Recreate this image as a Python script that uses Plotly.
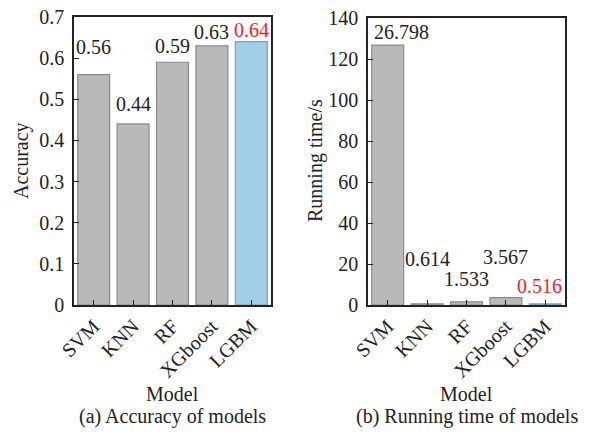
import plotly.graph_objects as go

models = ["SVM", "KNN", "RF", "XGboost", "LGBM"]
accuracy = [0.56, 0.44, 0.59, 0.63, 0.64]
accuracy_labels = ["0.56", "0.44", "0.59", "0.63", "0.64"]
runtime = [126.798, 0.614, 1.533, 3.567, 0.516]
runtime_labels = ["26.798", "0.614", "1.533", "3.567", "0.516"]
acc_ticks = [0, 0.1, 0.2, 0.3, 0.4, 0.5, 0.6, 0.7]
time_ticks = [0, 20, 40, 60, 80, 100, 120, 140]

FONT = "Liberation Serif"
GRAY = "#b9b9b9"
GRAY_LINE = "#8a8a8a"
BLUE = "#a0cfe6"
BLUE_LINE = "#7f9fb0"

fill = [GRAY, GRAY, GRAY, GRAY, BLUE]
outline = [GRAY_LINE, GRAY_LINE, GRAY_LINE, GRAY_LINE, BLUE_LINE]
label_colors = ["#222222", "#222222", "#222222", "#222222", "#ff1a1a"]

# label offsets in pixels (style)
acc_yshift = [28, 20, 16, 14, 12]
acc_xshift = [0, 0, 0, 0, 0]
time_yshift = [13, 45, 23, 41, 18]
time_xshift = [14, 0, 0, 0, -6]

W, H = 594, 432
OFF = 8  # page body margin compensation

fig = go.Figure()
fig.add_trace(go.Bar(x=models, y=accuracy, xaxis="x", yaxis="y",
                     marker=dict(color=fill, line=dict(color=outline, width=1.2)),
                     showlegend=False, hoverinfo="x+y"))
fig.add_trace(go.Bar(x=models, y=runtime, xaxis="x2", yaxis="y2",
                     marker=dict(color=fill, line=dict(color=outline, width=1.2)),
                     showlegend=False, hoverinfo="x+y"))

annotations = []
for i, m in enumerate(models):
    annotations.append(dict(x=m, y=accuracy[i], xref="x", yref="y", text=accuracy_labels[i],
                            showarrow=False, yanchor="middle", xanchor="center",
                            yshift=acc_yshift[i], xshift=acc_xshift[i],
                            font=dict(family=FONT, size=20, color=label_colors[i])))
    annotations.append(dict(x=m, y=runtime[i], xref="x2", yref="y2", text=runtime_labels[i],
                            showarrow=False, yanchor="middle", xanchor="center",
                            yshift=time_yshift[i], xshift=time_xshift[i],
                            font=dict(family=FONT, size=20, color=label_colors[i])))

def px(x):
    return (x - OFF) / W

def py(y):
    return 1 - (y - OFF) / H

text_items = [
    ("Model", 172.5, 394, 0),
    ("(a) Accuracy of models", 172.5, 416, 0),
    ("Model", 466.5, 394, 0),
    ("(b) Running time of models", 466.5, 416, 0),
    ("Accuracy", 21, 161, -90),
    ("Running time/s", 315, 161, -90),
]
for t, x, y, ang in text_items:
    annotations.append(dict(x=px(x), y=py(y), xref="paper", yref="paper", text=t,
                            showarrow=False, xanchor="center", yanchor="middle",
                            textangle=ang, font=dict(family=FONT, size=20, color="#222222")))

axis_common = dict(showline=True, linecolor="#222222", linewidth=1.5, mirror=True,
                   ticks="inside", ticklen=5, tickwidth=1.2, tickcolor="#222222",
                   showgrid=False, zeroline=False, automargin=False,
                   ticklabeloverflow="allow",
                   tickfont=dict(family=FONT, size=20, color="#222222"))

fig.update_layout(
    width=W, height=H,
    margin=dict(l=0, r=0, t=0, b=0, autoexpand=False),
    paper_bgcolor="white", plot_bgcolor="white",
    font=dict(family=FONT, size=20, color="#222222"),
    bargap=0.19,
    annotations=annotations,
    xaxis=dict(domain=[px(74), px(271)], anchor="y", tickangle=-45,
               range=[-0.5, 4.5], **axis_common),
    yaxis=dict(domain=[py(305), py(17)], anchor="x", range=[0, 0.7],
               tickvals=acc_ticks, ticklabelstandoff=4, **axis_common),
    xaxis2=dict(domain=[px(368), px(565)], anchor="y2", tickangle=-45,
                range=[-0.5, 4.5], **axis_common),
    yaxis2=dict(domain=[py(305), py(18)], anchor="x2", range=[0, 140],
                tickvals=time_ticks, ticklabelstandoff=4, **axis_common),
)

fig.write_html("out.html")
